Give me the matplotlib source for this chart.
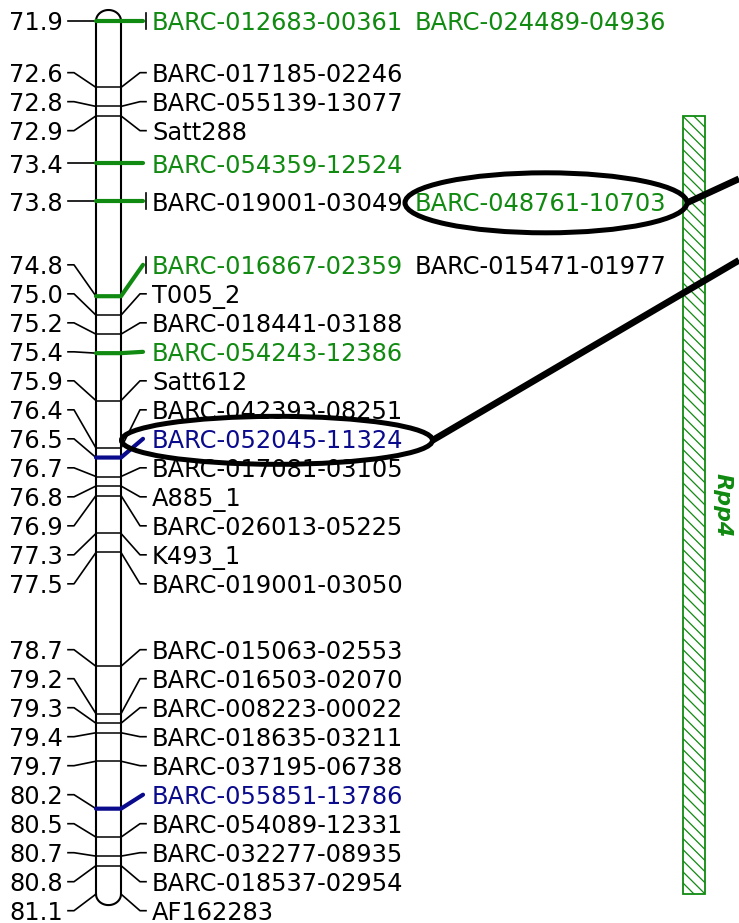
import matplotlib
matplotlib.use('Agg')
import matplotlib.pyplot as plt
import numpy as np
from matplotlib.patches import Ellipse, Rectangle

# map positions (cM)
pos = [71.9, 72.6, 72.8, 72.9, 73.4, 73.8, 74.8, 75.0, 75.2, 75.4, 75.9, 76.4,
       76.5, 76.7, 76.8, 76.9, 77.3, 77.5, 78.7, 79.2, 79.3, 79.4, 79.7, 80.2,
       80.5, 80.7, 80.8, 81.1]

# marker names at each position, and their class (k = plain, g = green, b = blue)
names = [
    ['BARC-012683-00361', 'BARC-024489-04936'],
    ['BARC-017185-02246'],
    ['BARC-055139-13077'],
    ['Satt288'],
    ['BARC-054359-12524'],
    ['BARC-019001-03049', 'BARC-048761-10703'],
    ['BARC-016867-02359', 'BARC-015471-01977'],
    ['T005_2'],
    ['BARC-018441-03188'],
    ['BARC-054243-12386'],
    ['Satt612'],
    ['BARC-042393-08251'],
    ['BARC-052045-11324'],
    ['BARC-017081-03105'],
    ['A885_1'],
    ['BARC-026013-05225'],
    ['K493_1'],
    ['BARC-019001-03050'],
    ['BARC-015063-02553'],
    ['BARC-016503-02070'],
    ['BARC-008223-00022'],
    ['BARC-018635-03211'],
    ['BARC-037195-06738'],
    ['BARC-055851-13786'],
    ['BARC-054089-12331'],
    ['BARC-032277-08935'],
    ['BARC-018537-02954'],
    ['AF162283'],
]
kinds = [
    ['g', 'g'], ['k'], ['k'], ['k'], ['g'], ['k', 'g'], ['g', 'k'], ['k'], ['k'],
    ['g'], ['k'], ['k'], ['b'], ['k'], ['k'], ['k'], ['k'], ['k'], ['k'], ['k'],
    ['k'], ['k'], ['k'], ['b'], ['k'], ['k'], ['k'], ['k'],
]

qtl_name = 'Rpp4'
qtl_span = (72.9, 81.1)
circled = ['BARC-048761-10703', 'BARC-052045-11324']

colors = {'k': 'black', 'g': '#108a10', 'b': '#0a0a8c'}

PX = 94.9          # pixels per cM in the drawing
GAP = 29 / PX      # minimum label spacing


def spread(y, gap):
    # push labels apart in clusters centred on the span of their positions
    groups = [[i] for i in range(len(y))]

    def place(g):
        c = (y[g[0]] + y[g[-1]]) / 2
        return [c + (k - (len(g) - 1) / 2) * gap for k in range(len(g))]

    changed = True
    while changed:
        changed = False
        for j in range(len(groups) - 1):
            if place(groups[j + 1])[0] - place(groups[j])[-1] < gap:
                groups[j] = groups[j] + groups[j + 1]
                del groups[j + 1]
                changed = True
                break
    out = []
    for g in groups:
        out += place(g)
    return out


lab = spread(pos, GAP)

plt.rcParams['font.family'] = ['DejaVu Sans']
plt.rcParams['hatch.linewidth'] = 0.9

fig = plt.figure(figsize=(7.39, 9.23), dpi=100)
ax = fig.add_axes([0, 0, 1, 1])
top = pos[0] - 21 / PX
ax.set_xlim(0, 739)
ax.set_ylim(top + 923 / PX, top)
ax.axis('off')

xl, xr = 96, 121
cx, r, h = (xl + xr) / 2, (xr - xl) / 2, 11 / PX

# chromosome outline
t = np.linspace(np.pi, 0, 40)
ox = np.concatenate([[xl, xl], cx + r * np.cos(t), [xr, xr],
                     cx + r * np.cos(t[::-1])])
oy = np.concatenate([[pos[-1], pos[0]], pos[0] - h * np.sin(t), [pos[0], pos[-1]],
                     pos[-1] + h * np.sin(t[::-1])])
ax.plot(ox, oy, color='black', lw=1.5, zorder=3)

fs = 17.4
for i, p in enumerate(pos):
    ly = lab[i]
    kk = kinds[i]
    tk = 'g' if 'g' in kk else ('b' if 'b' in kk else 'k')
    # left connector and position
    ax.plot([68, 74, xl], [ly, ly, p], color='black', lw=1.2, zorder=2)
    ax.text(63, ly, f'{p:.1f}', ha='right', va='center_baseline', fontsize=fs)
    if tk == 'k':
        if 0 < i < len(pos) - 1:
            ax.plot([xl, xr], [p, p], color='black', lw=1.1, zorder=3)
        ax.plot([xr, 140, 146], [p, ly, ly], color='black', lw=1.2, zorder=2)
    else:
        ax.plot([xl, xr, 143], [p, p, ly], color=colors[tk], lw=3,
                solid_capstyle='round', solid_joinstyle='round', zorder=4)
    if len(names[i]) > 1:
        ax.plot([146, 146], [ly - 8 / PX, ly + 8 / PX], color='black', lw=1.2)
    for j, (nm, k) in enumerate(zip(names[i], kk)):
        ax.text(152 if j == 0 else 415, ly, nm, ha='left', va='center_baseline',
                fontsize=fs, color=colors[k])

# QTL bar
ax.add_patch(Rectangle((683, qtl_span[0]), 22, qtl_span[1] - qtl_span[0],
                       facecolor='white', edgecolor=colors['g'], lw=1.3,
                       hatch='\\\\\\', zorder=2))
ax.text(723, np.mean(qtl_span), qtl_name, rotation=-90, ha='center', va='center',
        fontsize=16, fontweight='bold', fontstyle='italic', color=colors['g'])

# circled markers with leader lines running off to the right
ell = {circled[0]: (546, 282, 60, -24), circled[1]: (277, 311, 48, -180)}
for nm, (ex, ew, eh, dy) in ell.items():
    i = [n for n in range(len(names)) if nm in names[n]][0]
    ey = lab[i] + 1.5 / PX
    ax.add_patch(Ellipse((ex, ey), ew, eh / PX, fill=False, edgecolor='black',
                         lw=3.6, zorder=5))
    x0 = ex + ew / 2
    ax.plot([x0, 739], [ey, ey + dy / PX], color='black', lw=4.8, zorder=5,
            solid_capstyle='butt')

fig.savefig('out.png', dpi=100)
